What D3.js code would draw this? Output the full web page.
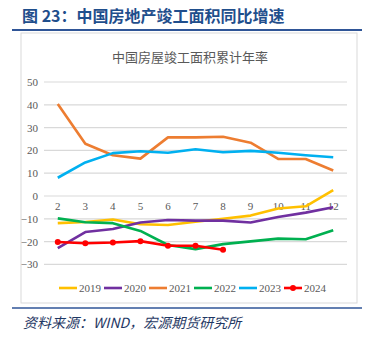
<!DOCTYPE html>
<html><head><meta charset="utf-8">
<script src="https://cdn.jsdelivr.net/npm/d3@7"></script>
<style>body{margin:0;background:#fff;}svg{display:block;}</style>
</head><body>
<svg id="c" width="373" height="337"></svg>
<script>
const months = ["2","3","4","5","6","7","8","9","10","11","12"];
const yTicks = [50,40,30,20,10,0,-10,-20,-30];
const s2019 = [-11.9,-11.4,-10.3,-12.4,-12.7,-11.3,-10.0,-8.6,-5.5,-4.5,2.6];
const s2020 = [-22.9,-15.8,-14.5,-11.6,-10.5,-10.8,-10.8,-11.6,-9.2,-7.3,-4.9];
const s2021 = [40.4,22.9,17.9,16.4,25.7,25.7,26.0,23.4,16.3,16.2,11.2];
const s2022 = [-9.8,-11.5,-11.9,-15.3,-21.5,-23.3,-21.1,-19.9,-18.7,-19.0,-15.0];
const s2023 = [8.0,14.7,18.8,19.6,19.0,20.5,19.2,19.8,19.0,17.9,17.0];
const s2024 = [-20.2,-20.7,-20.4,-19.8,-21.8,-21.8,-23.6];
const seriesNames = ["2019","2020","2021","2022","2023","2024"];
const seriesColors = ["#FFC000","#7030A0","#ED7D31","#00B050","#00B0F0","#FF0000"];
const seriesData = [s2019,s2020,s2021,s2022,s2023,s2024];

const svg = d3.select("#c");
const cjk = "'Noto Sans CJK SC','Noto Sans',sans-serif";
const serif = "'Liberation Serif','DejaVu Serif',serif";

// header
svg.append("text").attr("x",22).attr("y",22).attr("fill","#1F4E8C")
  .attr("font-family",cjk).attr("font-weight","bold").attr("font-size",16)
  .text("图 23：中国房地产竣工面积同比增速");
svg.append("line").attr("x1",12).attr("x2",362).attr("y1",30).attr("y2",30)
  .attr("stroke","#2F5597").attr("stroke-width",2);

// chart box
svg.append("rect").attr("x",21).attr("y",33).attr("width",336).attr("height",270)
  .attr("fill","#fff").attr("stroke","#D9D9D9").attr("stroke-width",1);

svg.append("text").attr("x",190).attr("y",62).attr("text-anchor","middle")
  .attr("fill","#595959").attr("font-family",cjk).attr("font-size",13)
  .text("中国房屋竣工面积累计年率");

const x = d3.scaleBand().domain(months).range([44,347]);
const y = d3.scaleLinear().domain([-30,50]).range([264.4,82]);

// grid
const g = svg.append("g");
g.selectAll("line.grid").data(yTicks).join("line")
  .attr("x1",44).attr("x2",347).attr("y1",d=>y(d)).attr("y2",d=>y(d))
  .attr("stroke","#D9D9D9").attr("stroke-width",1.2);

// y axis labels
const yAxis = d3.axisLeft(y).tickValues(yTicks).tickSize(0).tickPadding(0);
const ya = svg.append("g").attr("transform","translate(38,0)").call(yAxis);
ya.select(".domain").remove();
ya.selectAll("text").attr("fill","#595959").attr("font-family",serif).attr("font-size",11);

// x axis labels below zero line
const xAxis = d3.axisBottom(x).tickSize(0).tickPadding(0);
const xa = svg.append("g").attr("transform",`translate(0,${y(0)+6})`).call(xAxis);
xa.select(".domain").remove();
xa.selectAll("text").attr("fill","#595959").attr("font-family",serif).attr("font-size",11);

// lines
const line = d3.line().x((d,i)=>x(months[i])+x.bandwidth()/2).y(d=>y(d));
seriesData.forEach((data,k)=>{
  svg.append("path").datum(data).attr("d",line).attr("fill","none")
    .attr("stroke",seriesColors[k]).attr("stroke-width",2.6).attr("stroke-linejoin","round");
});
svg.append("g").selectAll("circle").data(s2024).join("circle")
  .attr("cx",(d,i)=>x(months[i])+x.bandwidth()/2).attr("cy",d=>y(d)).attr("r",3)
  .attr("fill","#FF0000");

// legend
const lg = svg.append("g");
seriesNames.forEach((n,k)=>{
  const lx = 59 + k*45, ly = 288;
  lg.append("line").attr("x1",lx).attr("x2",lx+18).attr("y1",ly).attr("y2",ly)
    .attr("stroke",seriesColors[k]).attr("stroke-width",2.6);
  if(n==="2024") lg.append("circle").attr("cx",lx+9).attr("cy",ly).attr("r",3).attr("fill",seriesColors[k]);
  lg.append("text").attr("x",lx+20).attr("y",ly+4).attr("fill","#595959")
    .attr("font-family",serif).attr("font-size",11).text(n);
});

// footer
svg.append("line").attr("x1",12).attr("x2",362).attr("y1",308).attr("y2",308)
  .attr("stroke","#2F5597").attr("stroke-width",1.5);
svg.append("text").attr("x",23).attr("y",328).attr("fill","#1F3864")
  .attr("font-family",cjk).attr("font-style","italic").attr("font-size",14)
  .text("资料来源：WIND，宏源期货研究所");
</script>
</body></html>
